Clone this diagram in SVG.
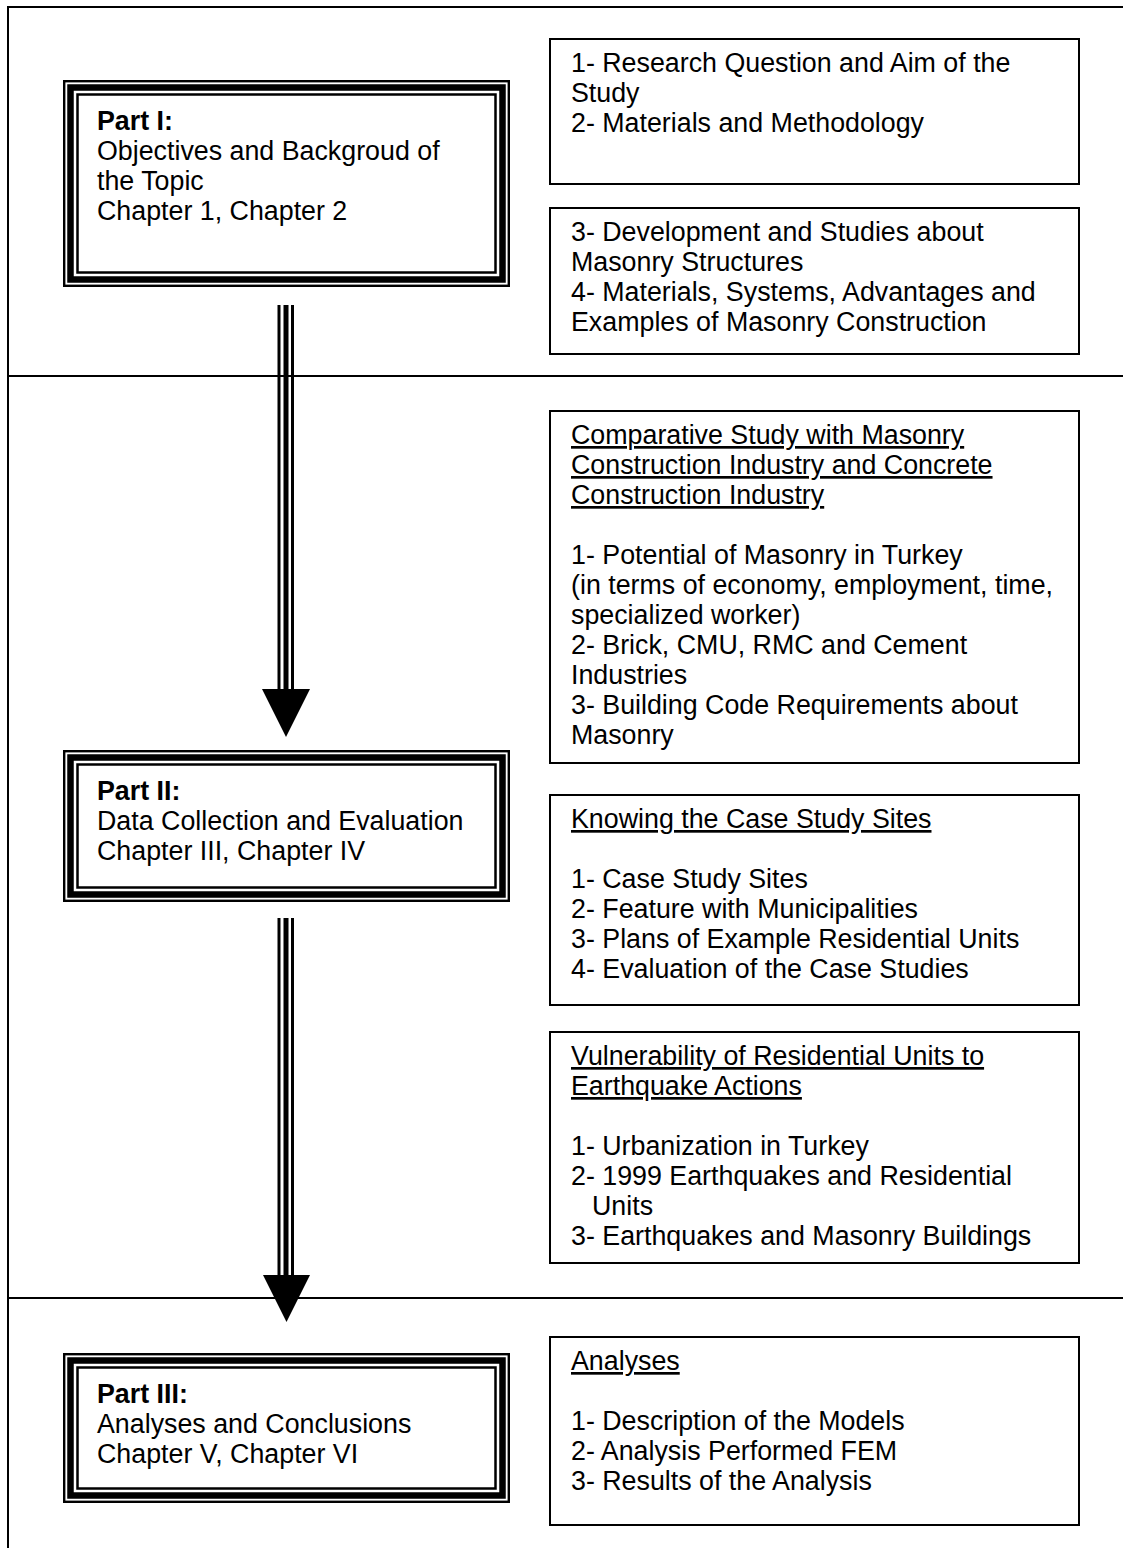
<svg xmlns="http://www.w3.org/2000/svg" width="1123" height="1548" viewBox="0 0 1123 1548">
<style>
.t{font-family:"Liberation Sans",Arial,sans-serif;font-size:26.8px;fill:#000}
.b{font-weight:bold}
.u{text-decoration:underline}
.box{fill:#fff;stroke:#000;stroke-width:2}
.frame{fill:none;stroke:#000;stroke-width:2}
.b1{fill:none;stroke:#000;stroke-width:2.4}
.b2{fill:none;stroke:#000;stroke-width:6.5}
.b3{fill:none;stroke:#000;stroke-width:2.5}
.sh{stroke:#000;fill:none}
</style>
<rect x="0" y="0" width="1123" height="1548" fill="#fff"/>
<g id="frame">
<line class="frame" x1="8" y1="7" x2="1123" y2="7"/>
<line class="frame" x1="8" y1="6" x2="8" y2="1548"/>
<line class="frame" x1="8" y1="376" x2="1123" y2="376"/>
<line class="frame" x1="8" y1="1298" x2="1123" y2="1298"/>
</g>
<g id="connectors">
<g id="arrow1">
<line class="sh" x1="279" y1="305" x2="279" y2="690" stroke-width="3"/>
<line class="sh" x1="286" y1="305" x2="286" y2="690" stroke-width="5"/>
<line class="sh" x1="292.5" y1="305" x2="292.5" y2="690" stroke-width="3"/>
<polygon points="262,689 310,689 286,737" fill="#000"/>
</g>
<g id="arrow2">
<line class="sh" x1="279" y1="918" x2="279" y2="1276" stroke-width="3"/>
<line class="sh" x1="286" y1="918" x2="286" y2="1276" stroke-width="5"/>
<line class="sh" x1="292.5" y1="918" x2="292.5" y2="1276" stroke-width="3"/>
<polygon points="263,1275 310,1275 286.5,1322" fill="#000"/>
</g>
</g>
<g id="part1">
<rect x="63" y="80" width="447" height="207" fill="#fff"/>
<rect class="b1" x="64.2" y="81.2" width="444.6" height="204.6"/>
<rect class="b2" x="70.5" y="87.5" width="432" height="192"/>
<rect class="b3" x="77.5" y="94.5" width="418" height="178"/>
<text class="t" x="97" y="130"><tspan class="b">Part I:</tspan></text>
<text class="t" x="97" y="160">Objectives and Backgroud of</text>
<text class="t" x="97" y="190">the Topic</text>
<text class="t" x="97" y="220">Chapter 1, Chapter 2</text>
</g>
<g id="boxA">
<rect class="box" x="550" y="39" width="529" height="145"/>
<text class="t" x="571" y="72">1- Research Question and Aim of the</text>
<text class="t" x="571" y="102">Study</text>
<text class="t" x="571" y="132">2- Materials and Methodology</text>
</g>
<g id="boxB">
<rect class="box" x="550" y="208" width="529" height="146"/>
<text class="t" x="571" y="241">3- Development and Studies about</text>
<text class="t" x="571" y="271">Masonry Structures</text>
<text class="t" x="571" y="301">4- Materials, Systems, Advantages and</text>
<text class="t" x="571" y="331">Examples of Masonry Construction</text>
</g>
<g id="comparative">
<rect class="box" x="550" y="411" width="529" height="352"/>
<text class="t u" x="571" y="444">Comparative Study with Masonry</text>
<text class="t u" x="571" y="474">Construction Industry and Concrete</text>
<text class="t u" x="571" y="504">Construction Industry</text>
<text class="t" x="571" y="564">1- Potential of Masonry in Turkey</text>
<text class="t" x="571" y="594">(in terms of economy, employment, time,</text>
<text class="t" x="571" y="624">specialized worker)</text>
<text class="t" x="571" y="654">2- Brick, CMU, RMC and Cement</text>
<text class="t" x="571" y="684">Industries</text>
<text class="t" x="571" y="714">3- Building Code Requirements about</text>
<text class="t" x="571" y="744">Masonry</text>
</g>
<g id="part2">
<rect x="63" y="750" width="447" height="152" fill="#fff"/>
<rect class="b1" x="64.2" y="751.2" width="444.6" height="149.6"/>
<rect class="b2" x="70.5" y="757.5" width="432" height="137"/>
<rect class="b3" x="77.5" y="764.5" width="418" height="123"/>
<text class="t" x="97" y="800"><tspan class="b">Part II:</tspan></text>
<text class="t" x="97" y="830">Data Collection and Evaluation</text>
<text class="t" x="97" y="860">Chapter III, Chapter IV</text>
</g>
<g id="knowing">
<rect class="box" x="550" y="795" width="529" height="210"/>
<text class="t u" x="571" y="828">Knowing the Case Study Sites</text>
<text class="t" x="571" y="888">1- Case Study Sites</text>
<text class="t" x="571" y="918">2- Feature with Municipalities</text>
<text class="t" x="571" y="948">3- Plans of Example Residential Units</text>
<text class="t" x="571" y="978">4- Evaluation of the Case Studies</text>
</g>
<g id="vulnerability">
<rect class="box" x="550" y="1032" width="529" height="231"/>
<text class="t u" x="571" y="1065">Vulnerability of Residential Units to</text>
<text class="t u" x="571" y="1095">Earthquake Actions</text>
<text class="t" x="571" y="1155">1- Urbanization in Turkey</text>
<text class="t" x="571" y="1185">2- 1999 Earthquakes and Residential</text>
<text class="t" x="592" y="1215">Units</text>
<text class="t" x="571" y="1245">3- Earthquakes and Masonry Buildings</text>
</g>
<g id="part3">
<rect x="63" y="1353" width="447" height="150" fill="#fff"/>
<rect class="b1" x="64.2" y="1354.2" width="444.6" height="147.6"/>
<rect class="b2" x="70.5" y="1360.5" width="432" height="135"/>
<rect class="b3" x="77.5" y="1367.5" width="418" height="121"/>
<text class="t" x="97" y="1403"><tspan class="b">Part III:</tspan></text>
<text class="t" x="97" y="1433">Analyses and Conclusions</text>
<text class="t" x="97" y="1463">Chapter V, Chapter VI</text>
</g>
<g id="analyses">
<rect class="box" x="550" y="1337" width="529" height="188"/>
<text class="t u" x="571" y="1370">Analyses</text>
<text class="t" x="571" y="1430">1- Description of the Models</text>
<text class="t" x="571" y="1460">2- Analysis Performed FEM</text>
<text class="t" x="571" y="1490">3- Results of the Analysis</text>
</g>
</svg>
